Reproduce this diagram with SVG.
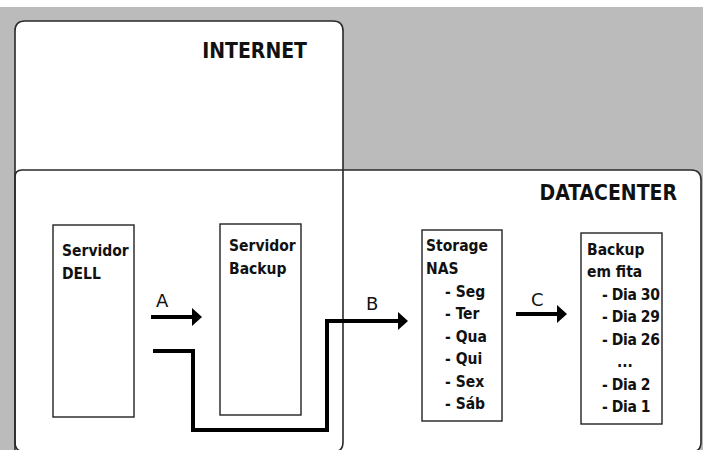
<svg xmlns="http://www.w3.org/2000/svg" width="703" height="450" viewBox="0 0 703 450">
<defs>
<style>
.zone{fill:#fff;stroke:none}
.edge{fill:none;stroke:#2a2a2a;stroke-width:1.6}
.box{fill:#fff;stroke:#222;stroke-width:1.4}
.title{font-family:"DejaVu Sans Condensed","DejaVu Sans",sans-serif;font-stretch:condensed;font-weight:bold;font-size:21px;fill:#111}
.lbl{font-family:"DejaVu Sans Condensed","DejaVu Sans",sans-serif;font-stretch:condensed;font-weight:bold;font-size:15.5px;fill:#111}
.let{font-family:"DejaVu Sans","Liberation Sans",sans-serif;font-size:18px;fill:#111}
.con{fill:none;stroke:#000;stroke-width:4}
</style>
<marker id="ah" viewBox="0 0 10 18" markerWidth="10" markerHeight="18" refX="0" refY="9" markerUnits="userSpaceOnUse" orient="auto">
<path d="M0,0 L10,9 L0,18 z" fill="#000"/>
</marker>
</defs>
<rect x="0" y="0" width="703" height="450" fill="#bbbbbb"/>
<rect x="0" y="0" width="703" height="7" fill="#fff"/>
<g id="internet">
<path class="zone" d="M15,31 Q15,21 25,21 L333,21 Q343,21 343,31 L343,452 L15,452 z"/>
</g>
<g id="datacenter">
<path class="zone" d="M15,177 Q15,170 22,170 L691,170 Q701,170 701,180 L701,442 Q701,452 691,452 L25,452 Q15,452 15,442 z"/>
<path class="edge" d="M15,177 Q15,170 22,170 L691,170 Q701,170 701,180 L701,442 Q701,452 691,452 L25,452 Q15,452 15,442 z"/>
<text class="title" x="677" y="200" text-anchor="end">DATACENTER</text>
</g>
<g id="internet-outline">
<path class="edge" d="M15,452 L15,31 Q15,21 25,21 L333,21 Q343,21 343,31 L343,442 Q343,452 333,452"/>
<text class="title" x="307" y="58" text-anchor="end">INTERNET</text>
</g>
<g id="servidor-dell">
<rect class="box" x="53" y="225" width="81" height="192"/>
<text class="lbl" x="62" y="256">Servidor</text>
<text class="lbl" x="62" y="279">DELL</text>
</g>
<g id="servidor-backup">
<rect class="box" x="220" y="224" width="81" height="191"/>
<text class="lbl" x="229" y="251">Servidor</text>
<text class="lbl" x="229" y="274">Backup</text>
</g>
<g id="storage-nas">
<rect class="box" x="422" y="230" width="80" height="191"/>
<text class="lbl" x="426" y="251">Storage</text>
<text class="lbl" x="426" y="274">NAS</text>
<text class="lbl" x="445" y="297">- Seg</text>
<text class="lbl" x="445" y="319">- Ter</text>
<text class="lbl" x="445" y="342">- Qua</text>
<text class="lbl" x="445" y="364">- Qui</text>
<text class="lbl" x="445" y="387">- Sex</text>
<text class="lbl" x="445" y="409">- Sáb</text>
</g>
<g id="backup-fita">
<rect class="box" x="581" y="233" width="81" height="191"/>
<text class="lbl" x="587" y="255">Backup</text>
<text class="lbl" x="587" y="277">em fita</text>
<text class="lbl" x="602" y="300" letter-spacing="-0.4">- Dia 30</text>
<text class="lbl" x="602" y="322" letter-spacing="-0.4">- Dia 29</text>
<text class="lbl" x="602" y="345" letter-spacing="-0.4">- Dia 26</text>
<text class="lbl" x="617" y="367">...</text>
<text class="lbl" x="602" y="390" letter-spacing="-0.4">- Dia 2</text>
<text class="lbl" x="602" y="412" letter-spacing="-0.4">- Dia 1</text>
</g>
<g id="connectors">
<path class="con" d="M151,317 L192,317" marker-end="url(#ah)"/>
<path class="con" d="M153,351 L193,351 L193,430 L327,430 L327,321 L398,321" stroke-linejoin="miter" marker-end="url(#ah)"/>
<path class="con" d="M516,314 L557,314" marker-end="url(#ah)"/>
<text class="let" x="156" y="307">A</text>
<text class="let" x="366" y="310">B</text>
<text class="let" x="531" y="306">C</text>
</g>
</svg>
